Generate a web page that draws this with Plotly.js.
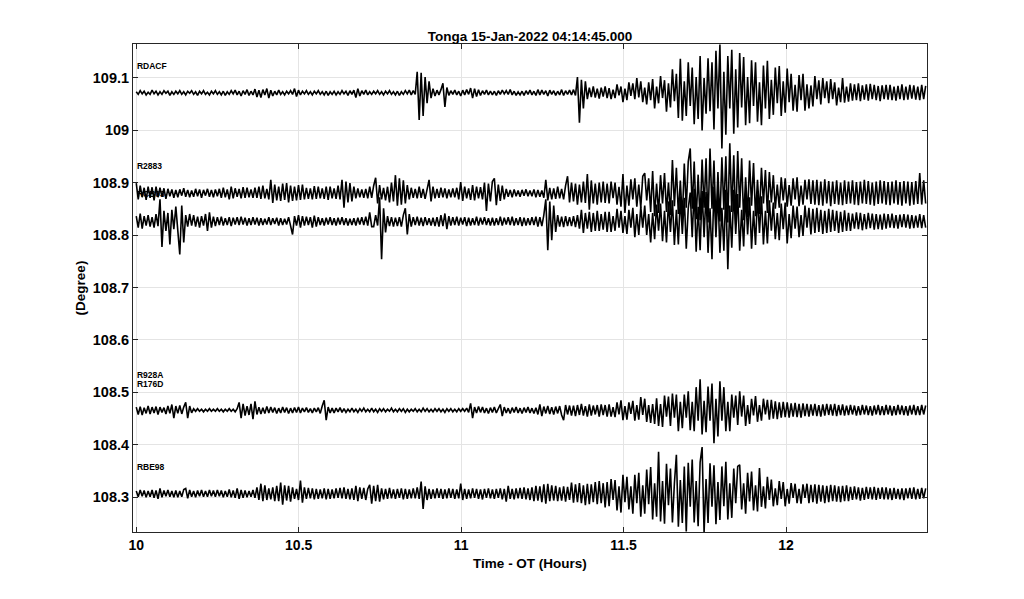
<!DOCTYPE html>
<html>
<head>
<meta charset="utf-8">
<script src="https://cdn.plot.ly/plotly-3.0.1.min.js"></script>
<style>html,body{margin:0;padding:0;background:#fff;}#chart{width:1024px;height:599px;}</style>
</head>
<body>
<div id="chart"></div>
<script>
// Sample times (hours after origin time)
const T0 = 10.0;
const DT = 0.00609;

// Station names and trace baselines (degrees)
const stations = ["RDACF", "R2883", "RCB03", "R176D", "RBE98"];
const baselines = [109.071, 108.880, 108.826, 108.466, 108.307];
const labelNames = ["RDACF", "R2883", "RCB03", "R928A", "R176D", "RBE98"];
const labelY = [109.121, 108.929, 108.876, 108.532, 108.515, 108.356];

// Trace deviations from baseline, millidegrees
const RDACF = [
2,-3,4,-2,3,-4,1,-3,5,-2,3,-4,2,-3,4,-1,3,-5,2,-3,
3,-2,4,-3,2,-4,3,-1,4,-3,2,-5,3,-2,4,-3,1,-4,3,-2,
4,-3,2,-4,3,-5,2,-3,4,-2,5,-4,3,-6,4,-3,6,-5,3,-4,
7,-8,5,-9,6,-4,8,-10,5,-6,3,-4,5,-3,2,-4,3,-2,4,-3,
8,-7,5,-4,3,-2,4,-3,2,-4,3,-2,4,-3,2,-4,3,-5,2,-3,
3,-4,2,-3,4,-2,3,-5,4,-3,5,-9,8,-6,4,-3,5,-4,2,-3,
3,-2,4,-3,2,-4,3,-2,4,-3,2,-4,3,-5,2,-3,4,-2,5,-4,
4,-3,40,-52,38,-44,30,-20,22,-10,8,-6,5,-4,6,18,-27,10,-5,4,
-3,5,-4,3,-6,5,-4,6,-3,9,-10,8,-7,6,-5,4,-3,5,-4,3,
-4,3,-5,4,-3,5,-2,4,-3,6,-4,3,-5,2,-4,3,-5,4,-3,5,
-4,3,-5,6,-4,5,-3,4,-6,5,-3,4,-5,3,-4,6,-5,4,-3,5,
-4,6,-5,30,-57,25,-30,22,-12,10,-8,12,-9,8,-11,10,-7,12,-10,9,
-12,6,-10,16,-5,12,-18,8,-14,20,-6,18,-12,28,-9,22,-18,10,-22,20,
-14,26,-30,12,-20,32,-10,24,-36,18,-28,45,-16,36,-48,65,-53,22,-44,58,
-25,48,-60,30,-50,70,-72,28,-40,66,-35,58,-70,80,-30,92,-106,40,-80,70,
-30,82,-78,45,-66,76,-28,68,-62,30,-58,62,-25,58,-55,20,-62,52,-30,61,
-50,25,-42,48,-20,51,-44,22,-38,46,-18,36,-34,15,-36,34,-14,36,-34,16,
-30,14,-26,32,-12,24,-22,28,-10,22,-20,26,-12,20,-24,10,-18,28,-19,12,
-17,18,-15,16,-14,18,-16,14,-13,16,-15,17,-12,15,-14,13,-16,14,-12,15,
-13,15,-14,12,-15,13,-12,16,-14,12,-13,15,-11,14,-13,12,-14,15,-12,13];

const R2883 = [
19,-12,14,-8,10,-13,12,-9,11,-14,12,-8,10,-7,9,-11,8,-6,7,-9,
6,-8,7,-5,9,-7,6,-8,5,-7,8,-6,7,-9,6,-5,8,-7,6,-8,
7,-6,8,-9,10,-8,7,-12,12,-10,9,-7,8,-10,11,-9,10,-8,7,-9,
10,-9,12,-11,14,-10,8,-12,25,-19,16,-14,12,-15,18,-13,19,-18,14,-15,
12,-14,15,-13,16,-12,10,-11,9,-12,13,-11,12,-10,9,-11,12,-13,12,-10,
9,-11,14,-12,25,-28,22,-18,19,-16,12,-10,9,-8,7,-9,8,-10,12,-9,
14,29,-20,15,-12,10,-14,12,-18,20,-16,34,-24,28,-22,24,-20,15,-12,10,
-9,8,-10,12,-9,8,-11,10,25,-16,12,-10,8,-9,10,-8,9,-10,7,-8,
9,-8,10,-12,21,-15,12,-10,9,-13,15,-14,12,-10,11,-12,20,-34,18,-16,
22,28,-23,16,-15,14,-12,8,-7,6,-8,7,-6,5,-7,6,-5,7,-6,5,
-6,7,-8,6,-7,5,-9,25,-14,10,-12,9,-11,12,-10,8,-12,14,32,-18,
20,-16,18,-22,16,-18,22,-19,36,-32,24,-20,18,-22,20,-18,22,-19,18,-20,
22,-10,20,-22,12,-26,36,-38,14,-24,26,-12,28,-26,16,-28,32,38,-14,28,
-36,42,-44,18,-38,34,-20,38,-36,20,-42,63,-25,48,-40,24,-50,56,-28,60,
85,-30,60,-50,35,-52,64,-28,66,-56,85,-30,62,-60,40,-54,68,-32,70,-56,
95,-36,72,-60,80,-28,66,-52,30,-46,62,-24,57,-44,25,-40,48,-20,44,-38,
40,-18,34,-30,16,-28,30,-14,28,-26,15,-24,28,-12,30,-25,14,-22,25,-12,
26,-21,24,-22,25,-23,22,-24,26,-20,23,-25,22,-21,24,-22,20,-23,24,-21,
22,-20,24,-22,21,-23,22,-20,25,-21,23,-22,20,-24,22,-21,24,-20,23,-22,
21,-23,22,-20,24,-22,21,-24,23,-20,22,-24,21,-22,23,-21,38,-22,24,-20];

const RCB03 = [
10,-12,15,-14,10,-8,12,-10,8,-12,14,-9,42,-49,20,-18,16,-44,22,-15,
28,-15,-63,30,-40,12,-10,14,-8,12,-10,9,-12,10,-8,14,-18,17,-12,9,
-9,8,-7,9,-8,6,-7,8,-9,7,-6,8,-7,9,-6,7,-8,6,-7,8,
-6,7,-8,6,-7,5,-6,8,-7,6,-5,7,-8,6,-7,5,-6,8,-7,-25,
10,-8,12,-12,10,-8,9,-7,8,-12,11,-10,8,-7,6,-8,7,-6,8,-7,
6,-8,7,-6,8,-7,6,-8,5,-7,6,-8,7,-6,8,-7,9,-8,17,-10,
-10,12,-8,46,-72,25,-21,10,-9,8,-10,7,-9,8,-10,12,25,-25,14,-10,
8,-7,9,-8,7,-9,8,-7,6,-8,7,-9,8,-10,12,-9,15,-15,10,-8,
8,-7,9,-8,7,-6,8,-9,7,-8,6,-7,9,-8,7,-6,8,-7,6,-8,
7,-8,6,-7,9,-8,7,-6,8,-7,9,-8,6,-7,8,-9,7,-8,6,-7,
8,-7,9,-10,8,-9,12,42,-55,38,-36,30,-20,12,-10,9,-11,10,-9,8,
-9,10,-11,12,-14,22,-22,16,-14,18,-20,16,-18,20,-18,14,-16,18,-20,18,
-20,10,-18,24,-12,20,-22,10,-24,22,-12,26,-30,14,-26,28,-12,30,-26,14,
-40,16,-34,32,-18,34,-38,20,-40,38,-20,40,-45,22,-44,48,-24,45,-52,25,
55,-30,62,-58,28,-55,58,-30,56,-60,25,-72,66,-30,58,-60,26,-56,60,-91,
30,-50,60,-24,52,-56,22,-48,54,-25,46,-52,20,-45,50,-22,48,-44,20,-42,
40,-18,36,-34,16,-36,34,-15,36,-42,14,-32,30,-14,28,-30,12,-28,30,-12,
26,-25,24,-22,26,-20,22,-24,20,-22,24,-20,22,-18,20,-22,18,-20,21,-18,
16,-18,15,-14,17,-15,16,-17,14,-15,16,-13,15,-16,14,-15,13,-16,15,-14,
14,-12,15,-13,12,-14,13,-11,14,-12,13,-14,12,-13,11,-12,14,-13,12,-12];

const R176D = [
6,-8,7,-9,5,-6,8,-7,6,-5,7,-8,6,-4,5,-7,8,-6,11,-15,
8,-6,9,-7,6,15,-15,8,-5,3,-2,3,-2,2,-3,2,-2,3,-2,2,
-2,3,-2,2,-3,2,-2,3,-2,2,-3,3,15,-15,12,-10,8,-9,12,-17,
17,-8,6,-7,5,-6,7,-5,6,-4,5,-6,4,-5,6,-4,5,-6,4,-5,
5,-4,6,-5,4,-3,5,-4,3,-5,4,-3,5,-6,8,19,-19,6,-5,4,
-5,4,-3,5,-4,3,-4,2,-3,4,-3,2,-4,3,-2,4,-3,2,-3,4,
-3,2,-4,3,-2,3,-3,2,-2,4,-3,2,-3,3,-2,3,-4,2,-3,2,
-2,3,-3,2,-3,4,-2,3,-3,2,-3,3,-2,3,-3,2,-4,3,-2,3,
-3,2,-3,3,-2,3,-2,4,-4,13,-15,6,-5,7,-4,6,-5,4,-6,5,
-4,6,-5,4,11,-11,6,-5,4,-6,5,-4,6,-5,4,-6,5,-4,6,-5,
4,-6,5,-8,11,-11,7,-6,8,-7,6,-8,7,-6,8,-9,-19,10,-8,9,
-10,9,-11,10,-9,12,-10,8,-12,11,-10,9,-8,10,-12,11,-9,10,-12,11,
-12,6,-13,15,-8,19,-19,8,-18,15,-7,18,-20,10,-18,25,-9,22,-22,10,
-24,12,-26,23,-30,12,-32,28,-12,26,-30,32,-14,30,-40,16,-34,30,-14,36,
-38,16,-40,44,-20,59,-46,18,-42,45,-20,51,-63,22,-50,55,-20,44,-40,16,
-40,30,-14,28,-28,36,-12,28,-30,10,-26,22,-10,27,-22,10,-20,22,-8,20,
-18,20,-16,17,-17,15,-14,16,-13,15,-14,13,-12,14,-13,12,-14,13,-11,12,
-12,11,-10,12,-11,10,-12,11,-10,12,-9,11,-10,12,-11,10,-9,11,-10,9,
-9,10,-8,9,-10,8,-9,10,-8,9,-9,8,-10,9,-8,10,-9,8,-9,10,
-8,9,-10,8,-9,10,-8,9,-9,8,-10,9,-8,10,-9,8,-9,10,-8,9];

const RBE98 = [
5,-6,7,-5,6,-7,5,-6,7,-8,6,-10,10,-7,6,-5,7,-6,5,-7,
6,-7,5,-6,8,10,-9,7,-6,5,-7,6,-5,7,-6,5,-6,7,-5,6,
-6,7,-5,6,-7,5,-6,8,-7,6,-8,10,-10,7,-8,6,-7,5,-6,7,
-8,12,-12,19,-14,16,-12,10,-11,12,-14,15,-14,21,-21,16,-13,15,-15,12,
-10,9,-12,25,-17,12,-10,11,-9,10,-11,9,-10,8,-9,10,-11,9,-10,8,
-9,10,-8,11,-9,12,-10,9,-11,10,-12,15,-14,12,-10,11,-12,9,17,-19,
15,-14,17,-15,10,-11,9,-10,11,-9,8,-10,9,-8,10,-11,9,-10,8,-9,
10,-9,12,-10,23,-29,14,-12,9,-10,8,-9,10,-8,9,-10,8,-9,10,-8,
9,-10,8,-9,19,-12,9,-10,8,-9,10,-8,9,-10,8,-11,9,-8,10,-9,
8,-10,9,-8,10,-11,9,-15,15,-10,9,-11,10,-9,11,-10,12,-11,10,-12,
12,-14,15,-13,14,-16,18,-19,19,-14,16,-13,15,-14,12,-13,14,-15,13,-12,
21,-17,18,-16,20,-18,16,-22,19,-20,18,-16,22,-20,24,-18,20,-26,22,-24,
28,-12,26,-32,14,-36,36,-16,32,-30,14,-38,36,-18,40,-44,16,-38,46,-20,
51,-49,20,-44,80,-53,24,-57,57,-22,48,-55,20,74,-63,26,-56,52,-72,59,
-25,65,-55,24,-62,60,89,-74,28,-56,58,-25,54,-58,22,-50,52,-24,61,-49,
20,-46,48,-18,52,55,-30,20,-38,40,-15,42,-32,16,-34,49,-25,14,-28,32,
-12,27,-24,10,-22,24,-10,22,-24,9,-19,20,-8,19,-18,9,-19,18,-8,19,
-18,17,-16,18,-19,17,-15,16,-18,15,-16,17,-14,16,-15,14,-16,15,-14,16,
-14,13,-12,14,-11,12,-13,11,-12,13,-10,12,-11,13,-12,11,-10,12,-11,12,
-11,10,-12,11,-10,9,-11,10,-12,10,-9,11,-10,12,-11,9,-10,11,-9,10];

const deviations = [RDACF, R2883, RCB03, R176D, RBE98];

const FONT = "Liberation Sans, Arial, Helvetica, sans-serif";

const data = [];
// station labels drawn first so traces sit on top of them
data.push({
  type: "scatter", mode: "text",
  x: labelNames.map(() => 10.002), y: labelY,
  text: labelNames, textposition: "middle right",
  textfont: {family: FONT, size: 8.5, color: "#000", weight: "bold"},
  hoverinfo: "skip", showlegend: false, cliponaxis: false
});
deviations.forEach((dev, k) => {
  const x = dev.map((_, i) => T0 + i * DT);
  const y = dev.map(d => baselines[k] + d / 1000);
  data.push({
    type: "scatter", mode: "lines", name: stations[k],
    x: x, y: y,
    line: {color: "#000000", width: 1.6},
    showlegend: false
  });
});

const axisCommon = {
  showgrid: true, gridcolor: "#e4e4e4", gridwidth: 1,
  showline: true, linecolor: "#262626", linewidth: 1,
  mirror: "ticks", ticks: "inside", ticklen: 5, tickcolor: "#262626",
  zeroline: false
};

const layout = {
  width: 1024, height: 599,
  paper_bgcolor: "#ffffff", plot_bgcolor: "#ffffff",
  margin: {l: 133, r: 97, t: 44, b: 67},
  showlegend: false,
  title: {
    text: "<b>Tonga 15-Jan-2022 04:14:45.000</b>",
    font: {family: FONT, size: 13.5, color: "#000"},
    x: 0.5, xref: "paper", xanchor: "center",
    y: 1, yref: "paper", yanchor: "bottom", pad: {b: 3}
  },
  xaxis: Object.assign({}, axisCommon, {
    range: [9.99, 12.434],
    tickmode: "array",
    tickvals: [10, 10.5, 11, 11.5, 12],
    ticktext: ["10", "10.5", "11", "11.5", "12"],
    tickfont: {family: FONT, size: 14, color: "#000", weight: "bold"},
    title: {text: "<b>Time - OT (Hours)</b>", font: {family: FONT, size: 13.5, color: "#000"}, standoff: 6}
  }),
  yaxis: Object.assign({}, axisCommon, {
    range: [108.234, 109.164],
    tickmode: "array",
    tickvals: [108.3, 108.4, 108.5, 108.6, 108.7, 108.8, 108.9, 109, 109.1],
    ticktext: ["108.3", "108.4", "108.5", "108.6", "108.7", "108.8", "108.9", "109", "109.1"],
    tickfont: {family: FONT, size: 14.5, color: "#000", weight: "bold"},
    title: {text: "<b>(Degree)</b>", font: {family: FONT, size: 13.5, color: "#000"}, standoff: 4}
  })
};

Plotly.newPlot("chart", data, layout, {staticPlot: true, displayModeBar: false});
</script>
</body>
</html>
